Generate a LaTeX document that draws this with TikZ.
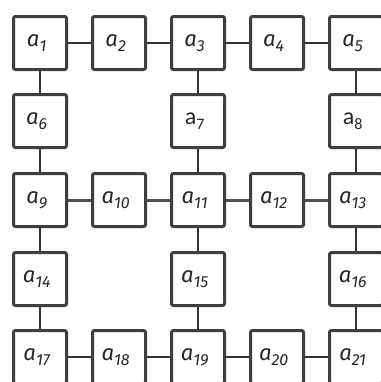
\documentclass[tikz,border=0pt]{standalone}
\usepackage{fontspec}
\setmainfont{Carlito}
\newfontfamily\fira{Fira Sans}[Scale=1.0]
\definecolor{bordc}{RGB}{62,62,62}
\definecolor{linkc}{RGB}{50,50,50}
\newcommand{\lab}[2]{#1\raisebox{-0.4ex}{\fontsize{12}{13}\selectfont #2}}
\begin{document}
\begin{tikzpicture}[x=0.75pt,y=-0.75pt,
  box/.style={draw=bordc, fill=white, line width=2.25pt, rounded corners=1.5pt,
    minimum width=39.75pt, minimum height=39.75pt, inner sep=0pt,
    font=\fira\fontsize{16.5}{18}\selectfont\itshape\color{black!85}},
  ubox/.style={box, font=\fontsize{18}{19}\selectfont\upshape\color{black!85}},
  link/.style={draw=linkc, line width=1.5pt},
  thick link/.style={draw=linkc!85, line width=2.25pt}]
\clip (0,0) rectangle (381,382);
\fill[white] (0,0) rectangle (381,382);
% row 1
\node[box] (a1) at (40,43) {\lab{a}{1}\hspace*{5pt}};
\node[box] (a2) at (119,43) {\lab{a}{2}\hspace*{5pt}};
\node[box] (a3) at (198,43) {\lab{a}{3}\hspace*{5pt}};
\node[box] (a4) at (277,43) {\lab{a}{4}\hspace*{5pt}};
\node[box] (a5) at (356,43) {\lab{a}{5}\hspace*{5pt}};
% row 2
\node[box] (a6) at (40,121) {\lab{a}{6}\hspace*{5pt}};
\node[ubox] (a7) at (198,121) {\lab{a}{7}\hspace*{5pt}};
\node[ubox] (a8) at (356,121) {\lab{a}{8}\hspace*{5pt}};
% row 3
\node[box] (a9) at (40,200) {\lab{a}{9}\hspace*{5pt}};
\node[box] (a10) at (119,200) {\lab{a}{10}\hspace*{5pt}};
\node[box] (a11) at (198,200) {\lab{a}{11}\hspace*{5pt}};
\node[box] (a12) at (277,200) {\lab{a}{12}\hspace*{5pt}};
\node[box] (a13) at (356,200) {\lab{a}{13}\hspace*{5pt}};
% row 4
\node[box] (a14) at (40,279) {\lab{a}{14}\hspace*{5pt}};
\node[box] (a15) at (198,279) {\lab{a}{15}\hspace*{5pt}};
\node[box] (a16) at (356,279) {\lab{a}{16}\hspace*{5pt}};
% row 5
\node[box] (a17) at (40,357) {\lab{a}{17}\hspace*{5pt}};
\node[box] (a18) at (119,357) {\lab{a}{18}\hspace*{5pt}};
\node[box] (a19) at (198,357) {\lab{a}{19}\hspace*{5pt}};
\node[box] (a20) at (277,357) {\lab{a}{20}\hspace*{5pt}};
\node[box] (a21) at (356,357) {\lab{a}{21}\hspace*{5pt}};
% horizontal links
\draw[link] (a1) -- (a2);
\draw[link] (a2) -- (a3);
\draw[link] (a3) -- (a4);
\draw[link] (a4) -- (a5);
\draw[thick link] (a9) -- (a10);
\draw[thick link] (a10) -- (a11);
\draw[thick link] (a11) -- (a12);
\draw[thick link] (a12) -- (a13);
\draw[link] (a17) -- (a18);
\draw[link] (a18) -- (a19);
\draw[link] (a19) -- (a20);
\draw[link] (a20) -- (a21);
% vertical links
\draw[link] (a1) -- (a6);
\draw[link] (a6) -- (a9);
\draw[link] (a9) -- (a14);
\draw[link] (a14) -- (a17);
\draw[link] (a3) -- (a7);
\draw[link] (a7) -- (a11);
\draw[link] (a11) -- (a15);
\draw[link] (a15) -- (a19);
\draw[link] (a5) -- (a8);
\draw[link] (a8) -- (a13);
\draw[link] (a13) -- (a16);
\draw[link] (a16) -- (a21);
\end{tikzpicture}
\end{document}
